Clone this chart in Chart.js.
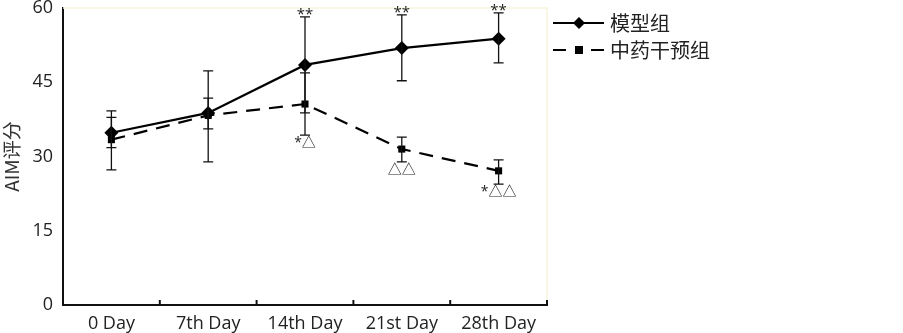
<!DOCTYPE html>
<html>
<head>
<meta charset="utf-8">
<script src="https://cdn.jsdelivr.net/npm/chart.js@4.4.0/dist/chart.umd.min.js"></script>
<style>
  html, body { margin: 0; padding: 0; background: #fff; }
  #wrap { width: 903px; height: 333px; position: relative; }
</style>
</head>
<body>
<div id="wrap"><canvas id="c" width="903" height="333"></canvas></div>
<script>
const days = ["0 Day", "7th Day", "14th Day", "21st Day", "28th Day"];
const yTicks = [0, 15, 30, 45, 60];

const modelMean = [34.8, 38.8, 48.5, 51.9, 53.8];
const modelHigh = [39.2, 47.3, 58.2, 58.6, 59.0];
const modelLow = [27.3, 28.9, 38.8, 45.3, 48.9];

const herbMean = [33.4, 38.3, 40.6, 31.5, 27.1];
const herbHigh = [37.9, 41.8, 46.9, 33.9, 29.3];
const herbLow = [31.8, 35.6, 34.3, 28.9, 24.4];

const modelMarks = ["", "", "**", "**", "**"];
const herbMarks = ["", "", "*△", "△△", "*△△"];

const seriesNames = ["模型组", "中药干预组"];

const FONT = "'Open Sans', 'Noto Sans', sans-serif";
const CJK = "'Noto Sans CJK SC', sans-serif";

const extras = {
  id: "extras",
  beforeDatasetsDraw(chart) {
    const { ctx, chartArea } = chart;
    ctx.save();
    ctx.strokeStyle = "#f7f5dc";
    ctx.lineWidth = 1.5;
    ctx.beginPath();
    ctx.moveTo(chartArea.left, chartArea.top);
    ctx.lineTo(chartArea.right, chartArea.top);
    ctx.lineTo(chartArea.right, chartArea.bottom);
    ctx.stroke();
    ctx.restore();
  },
  afterDatasetsDraw(chart) {
    const { ctx, chartArea, scales: { x, y } } = chart;
    ctx.save();
    ctx.strokeStyle = "#111";
    ctx.lineWidth = 1.3;
    const bars = (hi, lo) => {
      hi.forEach((h, i) => {
        const px = x.getPixelForValue(i);
        const t = y.getPixelForValue(h), b = y.getPixelForValue(lo[i]);
        ctx.beginPath();
        ctx.moveTo(px, t); ctx.lineTo(px, b);
        ctx.moveTo(px - 5, t); ctx.lineTo(px + 5, t);
        ctx.moveTo(px - 5, b); ctx.lineTo(px + 5, b);
        ctx.stroke();
      });
    };
    bars(modelHigh, modelLow);
    bars(herbHigh, herbLow);

    // x ticks at category boundaries, pointing up
    ctx.lineWidth = 2;
    for (let i = 0; i <= days.length; i++) {
      let px;
      if (i === 0) px = chartArea.left;
      else if (i === days.length) px = chartArea.right;
      else px = (x.getPixelForValue(i - 1) + x.getPixelForValue(i)) / 2;
      ctx.beginPath();
      ctx.moveTo(px, chartArea.bottom);
      ctx.lineTo(px, chartArea.bottom - 5);
      ctx.stroke();
    }

    // significance marks
    ctx.fillStyle = "#222";
    ctx.textAlign = "center";
    ctx.font = "15px " + FONT;
    ctx.textBaseline = "bottom";
    modelMarks.forEach((m, i) => {
      if (!m) return;
      ctx.fillText(m, x.getPixelForValue(i), y.getPixelForValue(modelHigh[i]) + 5);
    });
    ctx.textBaseline = "top";
    ctx.font = "14px 'Open Sans', 'Noto Sans CJK SC', sans-serif";
    herbMarks.forEach((m, i) => {
      if (!m) return;
      ctx.fillText(m, x.getPixelForValue(i), y.getPixelForValue(herbLow[i]) + 1);
    });

    // legend
    const lx = chartArea.right + 6;
    const rows = [
      { yy: 23, draw: (cx, cy) => {
          ctx.beginPath();
          ctx.moveTo(cx, cy - 6); ctx.lineTo(cx + 6, cy); ctx.lineTo(cx, cy + 6); ctx.lineTo(cx - 6, cy);
          ctx.closePath(); ctx.fill();
        } },
      { yy: 50, draw: (cx, cy) => { ctx.fillRect(cx - 4, cy - 4, 8, 8); } }
    ];
    rows.forEach((r, k) => {
      ctx.strokeStyle = "#000";
      ctx.fillStyle = "#000";
      ctx.lineWidth = 2;
      ctx.beginPath();
      if (k === 0) {
        ctx.moveTo(lx, r.yy); ctx.lineTo(lx + 51, r.yy);
      } else {
        ctx.moveTo(lx, r.yy); ctx.lineTo(lx + 13, r.yy);
        ctx.moveTo(lx + 38, r.yy); ctx.lineTo(lx + 51, r.yy);
      }
      ctx.stroke();
      r.draw(lx + 26, r.yy);
      ctx.fillStyle = "#222";
      ctx.font = "20px " + CJK;
      ctx.textAlign = "left";
      ctx.textBaseline = "middle";
      ctx.fillText(seriesNames[k], lx + 57, r.yy);
    });
    ctx.restore();
  }
};

new Chart(document.getElementById("c"), {
  type: "line",
  data: {
    labels: days,
    datasets: [
      {
        label: seriesNames[0],
        data: modelMean,
        borderColor: "#000",
        backgroundColor: "#000",
        borderWidth: 2.2,
        pointStyle: "rectRot",
        pointRadius: 7,
        pointBorderWidth: 0,
        tension: 0
      },
      {
        label: seriesNames[1],
        data: herbMean,
        borderColor: "#000",
        backgroundColor: "#000",
        borderWidth: 2.2,
        borderDash: [14, 9],
        pointStyle: "rect",
        pointRadius: 5,
        pointBorderWidth: 0,
        tension: 0
      }
    ]
  },
  options: {
    responsive: false,
    animation: false,
    layout: { padding: { top: 8, right: 356, left: 0, bottom: 0 } },
    plugins: { legend: { display: false }, tooltip: { enabled: false } },
    scales: {
      x: {
        offset: true,
        grid: { display: false },
        border: { color: "#111", width: 2 },
        ticks: { color: "#222", font: { family: FONT, size: 18 }, padding: 0 },
        afterFit(s) { s.height = 28; s.paddingLeft = 0; s.paddingRight = 0; }
      },
      y: {
        min: 0,
        max: 60,
        afterBuildTicks(s) { s.ticks = yTicks.map(v => ({ value: v })); },
        grid: { display: false },
        border: { color: "#111", width: 2 },
        ticks: { color: "#222", font: { family: FONT, size: 18 }, padding: 2 },
        title: {
          display: true,
          text: "AIM评分",
          color: "#333",
          font: { family: CJK, size: 19 },
          padding: { top: 0, bottom: 6 }
        },
        afterFit(s) { s.width = 63; s.paddingTop = 0; s.paddingBottom = 0; }
      }
    }
  },
  plugins: [extras]
});
</script>
</body>
</html>
